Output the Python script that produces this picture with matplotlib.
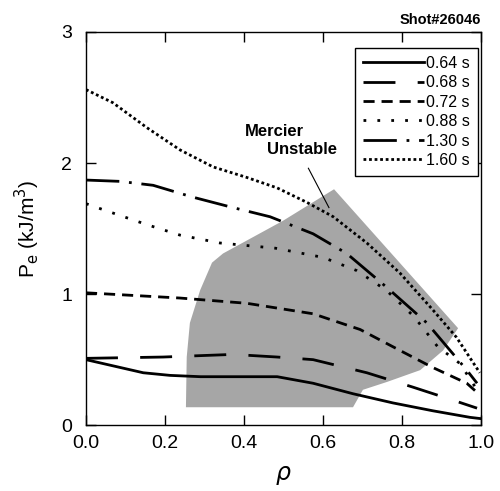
import matplotlib
matplotlib.use("Agg")
import matplotlib.pyplot as plt
from matplotlib.patches import Polygon

plt.rcParams['font.family'] = ['Liberation Sans', 'DejaVu Sans']

# profiles: rho, Pe (kJ/m^3)
rho_064 = [0.0, 0.145, 0.213, 0.29, 0.484, 0.575, 0.676, 0.777, 0.878, 0.972, 1.0]
pe_064 = [0.50, 0.40, 0.38, 0.37, 0.37, 0.32, 0.24, 0.17, 0.11, 0.06, 0.05]

rho_068 = [0.0, 0.195, 0.372, 0.484, 0.575, 0.711, 0.828, 0.93, 0.99]
pe_068 = [0.51, 0.52, 0.54, 0.52, 0.50, 0.40, 0.29, 0.19, 0.13]

rho_072 = [0.0, 0.238, 0.407, 0.575, 0.694, 0.795, 0.878, 0.964, 0.99]
pe_072 = [1.01, 0.97, 0.93, 0.85, 0.73, 0.57, 0.44, 0.32, 0.25]

rho_088 = [0.0, 0.028, 0.154, 0.238, 0.339, 0.48, 0.60, 0.685, 0.76, 0.83, 0.89, 0.947, 0.99]
pe_088 = [1.69, 1.66, 1.53, 1.45, 1.39, 1.35, 1.28, 1.18, 1.03, 0.83, 0.60, 0.47, 0.27]

rho_130 = [0.0, 0.086, 0.17, 0.27, 0.372, 0.466, 0.575, 0.66, 0.762, 0.863, 0.964, 0.99]
pe_130 = [1.87, 1.86, 1.83, 1.74, 1.66, 1.59, 1.46, 1.31, 1.05, 0.78, 0.42, 0.32]

rho_160 = [0.0, 0.068, 0.154, 0.238, 0.322, 0.407, 0.484, 0.559, 0.626, 0.711, 0.795, 0.878, 0.938, 0.997]
pe_160 = [2.56, 2.46, 2.27, 2.10, 1.97, 1.89, 1.81, 1.70, 1.59, 1.39, 1.16, 0.88, 0.67, 0.40]

# Mercier unstable region outline
reg_rho = [0.253, 0.676, 0.701, 0.762, 0.846, 0.904, 0.942, 0.628, 0.499, 0.347,
           0.319, 0.289, 0.263, 0.255]
reg_pe = [0.137, 0.137, 0.27, 0.33, 0.42, 0.57, 0.74, 1.80, 1.56, 1.31,
          1.24, 1.03, 0.78, 0.52]

labels = ['0.64 s', '0.68 s', '0.72 s', '0.88 s', '1.30 s', '1.60 s']
dashes = [None, (11.5, 8), (4, 2.5), (1, 4), (12, 3.5, 1, 3.5), (1, 1)]

fig = plt.figure(figsize=(5.0, 4.91), dpi=100)
ax = fig.add_axes([0.172, 0.134, 0.79, 0.801])

ax.add_patch(Polygon(list(zip(reg_rho, reg_pe)), closed=True,
                     facecolor='#a6a6a6', edgecolor='none', zorder=1))

series = [(rho_064, pe_064), (rho_068, pe_068), (rho_072, pe_072),
          (rho_088, pe_088), (rho_130, pe_130), (rho_160, pe_160)]
for (x, y), lab, d in zip(series, labels, dashes):
    ln, = ax.plot(x, y, color='black', lw=2, label=lab, zorder=3)
    if d is not None:
        ln.set_dashes(d)

ax.set_xlim(0, 1)
ax.set_ylim(0, 3)
ax.set_xticks([0.0, 0.2, 0.4, 0.6, 0.8, 1.0])
ax.set_xticklabels(['0.0', '0.2', '0.4', '0.6', '0.8', '1.0'])
ax.set_yticks([0, 1, 2, 3])
ax.tick_params(direction='in', length=7, width=1, labelsize=14,
               top=True, right=True)
ax.tick_params(axis='x', pad=7)
ax.tick_params(axis='y', pad=10)
for t in ax.get_yticklabels():
    t.set_verticalalignment('center_baseline')
for s in ax.spines.values():
    s.set_linewidth(1)

ax.set_xlabel(r'$\rho$', fontsize=17, labelpad=9)
ax.set_ylabel(r'P$_{\rm e}$ (kJ/m$^3$)', fontsize=15, labelpad=14)

ax.text(1.0, 1.012, 'Shot#26046', transform=ax.transAxes, ha='right', va='bottom',
        fontsize=10.5, fontweight='bold')

ax.text(0.478, 2.24, 'Mercier', ha='center', va='center', fontsize=12, fontweight='bold')
ax.text(0.547, 2.10, 'Unstable', ha='center', va='center', fontsize=12, fontweight='bold')
ax.plot([0.563, 0.615], [1.96, 1.66], color='black', lw=0.8, zorder=4)

leg = ax.legend(loc='upper right', bbox_to_anchor=(0.993, 0.96), borderaxespad=0,
                fontsize=11.5, handlelength=3.8, handletextpad=0.15, labelspacing=0.28,
                borderpad=0.5, fancybox=False, framealpha=1, edgecolor='black')
leg.get_frame().set_linewidth(1)

fig.savefig('out.png', dpi=100)
